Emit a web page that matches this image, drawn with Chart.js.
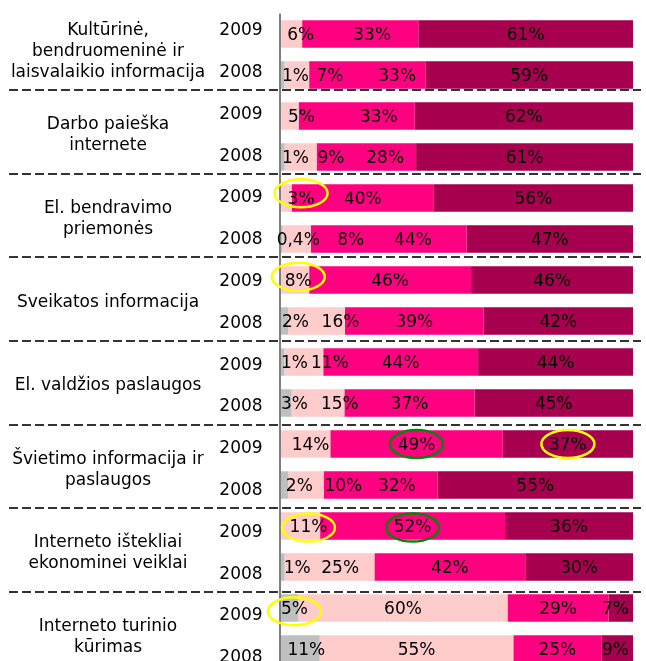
<!DOCTYPE html>
<html lang="lt">
<head>
<meta charset="utf-8">
<title>Interneto paslaugų naudojimas 2008–2009</title>
<script src="https://cdn.jsdelivr.net/npm/chart.js@4.4.1/dist/chart.umd.min.js"></script>
<style>
  html, body { margin: 0; padding: 0; background: #ffffff; overflow: hidden; }
  #wrap { width: 646px; height: 672px; }
</style>
</head>
<body>
<div id="wrap"><canvas id="chart" width="646" height="672"></canvas></div>
<script>
// Topics (label lines), each shown for two years, 2009 above 2008
const topics = [
  ['Kultūrinė,', 'bendruomeninė ir', 'laisvalaikio informacija'],
  ['Darbo paieška', 'internete'],
  ['El. bendravimo', 'priemonės'],
  ['Sveikatos informacija'],
  ['El. valdžios paslaugos'],
  ['Švietimo informacija ir', 'paslaugos'],
  ['Interneto ištekliai', 'ekonominei veiklai'],
  ['Interneto turinio', 'kūrimas']
];
const years = ['2009', '2008'];

// Answer shares in percent, one value per bar, top to bottom
const greyPart = [0, 1, 0, 1, 0, 0.4, 0, 2, 1, 3, 0, 2, 0, 1, 5, 11];
const palePart = [6, 7, 5, 9, 3, 8, 8, 16, 11, 15, 14, 10, 11, 25, 60, 55];
const pinkPart = [33, 33, 33, 28, 40, 44, 46, 39, 44, 37, 49, 32, 52, 42, 29, 25];
const darkPart = [61, 59, 62, 61, 56, 47, 46, 42, 44, 45, 37, 55, 36, 30, 7, 9];

const parts = [greyPart, palePart, pinkPart, darkPart];
const partColours = ['#BFBFBF', '#FFCCCC', '#FF0080', '#A6004F'];

// Label anchor along the bar (0–100 of the bar length); null = middle of its segment
const labelSpots = [
  [null, 5.6, 25.9, null],
  [4.1, 13.9, 33.0, null],
  [null, 5.8, 27.8, null],
  [4.1, 14.2, 29.6, null],
  [null, 5.7, null, null],
  [4.9, 19.8, 37.5, null],
  [null, 4.9, null, null],
  [4.1, 16.9, null, null],
  [3.8, 13.9, null, null],
  [3.8, 16.7, null, null],
  [null, 8.4, null, null],
  [5.2, 17.7, 32.9, null],
  [null, 7.8, null, null],
  [4.6, 16.8, null, null],
  [3.8, null, null, 95.0],
  [7.2, null, null, 95.0]
];

// Circled values
const highlights = [
  { row: 4,  part: 1, colour: '#FFFF00' },
  { row: 6,  part: 1, colour: '#FFFF00' },
  { row: 10, part: 2, colour: '#0A820A' },
  { row: 10, part: 3, colour: '#FFFF00' },
  { row: 12, part: 1, colour: '#FFFF00' },
  { row: 12, part: 2, colour: '#0A820A' },
  { row: 14, part: 0, colour: '#FFFF00' }
];

// Each bar is shown as a 100 % stack of its own parts
const rowNames = topics.flatMap(t => years.map(y => t.join(' ') + ' ' + y));
const rowTotals = greyPart.map((_, r) => parts.reduce((s, p) => s + p[r], 0));
const asShare = p => p.map((v, r) => v / rowTotals[r] * 100);

const FONT = '"DejaVu Sans", Verdana, sans-serif';
const SIZE = 17;
const pct = v => (Number.isInteger(v) ? String(v) : String(v).replace('.', ',')) + '%';

// The text/separator layer runs on topic bands that are a touch taller
// than the bar rows: v = topic index along the band (0 = top of first topic).
const BAND_STRETCH = 1.6;   // extra px per topic band
const layerPixel = (ys, v) =>
  ys.getPixelForValue(2 * v - 0.5) + (v - 4) * BAND_STRETCH - 0.5;

const overlay = {
  id: 'overlay',
  afterDatasetsDraw(chart) {
    const ctx = chart.ctx;
    const xs = chart.scales.x;
    const ys = chart.scales.y;
    const area = chart.chartArea;
    const capMid = SIZE * 0.3645;

    ctx.save();

    // vertical axis line
    ctx.strokeStyle = '#808080';
    ctx.lineWidth = 2;
    ctx.beginPath();
    ctx.moveTo(area.left - 1, area.top);
    ctx.lineTo(area.left - 1, area.bottom);
    ctx.stroke();

    // dashed separators between topics
    ctx.strokeStyle = '#333333';
    ctx.setLineDash([9, 4]);
    for (let k = 1; k < topics.length; k++) {
      const y = Math.round(layerPixel(ys, k));
      ctx.beginPath();
      ctx.moveTo(9, y);
      ctx.lineTo(641, y);
      ctx.stroke();
    }
    ctx.setLineDash([]);

    ctx.fillStyle = '#000000';
    ctx.font = SIZE + 'px ' + FONT;
    ctx.textAlign = 'center';
    ctx.textBaseline = 'alphabetic';

    // value labels
    const labelX = (r, i) => {
      if (labelSpots[r][i] !== null) return xs.getPixelForValue(labelSpots[r][i]);
      const el = chart.getDatasetMeta(i).data[r];
      return (el.x + el.base) / 2;
    };
    parts.forEach((p, i) => {
      const meta = chart.getDatasetMeta(i);
      p.forEach((v, r) => {
        if (!v) return;
        ctx.fillText(pct(v), labelX(r, i), meta.data[r].y + capMid);
      });
    });

    const rowSpot = r => Math.floor(r / 2) + (r % 2 ? 0.75 : 0.25);

    // year labels
    rowNames.forEach((_, r) => {
      ctx.fillText(years[r % 2], area.left - 40, layerPixel(ys, rowSpot(r)) + 1.5 + capMid);
    });

    // topic names
    const lineH = 21;
    topics.forEach((lines, g) => {
      const mid = layerPixel(ys, g + 0.5) + 1.5;
      lines.forEach((line, j) => {
        const y = mid + (j - (lines.length - 1) / 2) * lineH;
        ctx.fillText(line, 108, y + capMid);
      });
    });

    // circled values
    ctx.lineWidth = 2.5;
    highlights.forEach(h => {
      ctx.strokeStyle = h.colour;
      ctx.beginPath();
      ctx.ellipse(labelX(h.row, h.part), layerPixel(ys, rowSpot(h.row)) - 1.5, 26.5, 14, 0, 0, Math.PI * 2);
      ctx.stroke();
    });

    ctx.restore();
  }
};

new Chart(document.getElementById('chart'), {
  type: 'bar',
  data: {
    labels: rowNames,
    datasets: parts.map((p, i) => ({
      label: 'part ' + (i + 1),
      data: asShare(p),
      backgroundColor: partColours[i],
      borderWidth: 0,
      barPercentage: 0.675,
      categoryPercentage: 1
    }))
  },
  options: {
    indexAxis: 'y',
    responsive: false,
    animation: false,
    events: [],
    layout: { padding: { left: 281, right: 13, top: 13.5, bottom: 2.5 } },
    plugins: { legend: { display: false }, tooltip: { enabled: false } },
    scales: {
      x: { type: 'linear', stacked: true, min: 0, max: 100, display: false },
      y: { type: 'category', stacked: true, offset: true, display: false }
    }
  },
  plugins: [overlay]
});
</script>
</body>
</html>
